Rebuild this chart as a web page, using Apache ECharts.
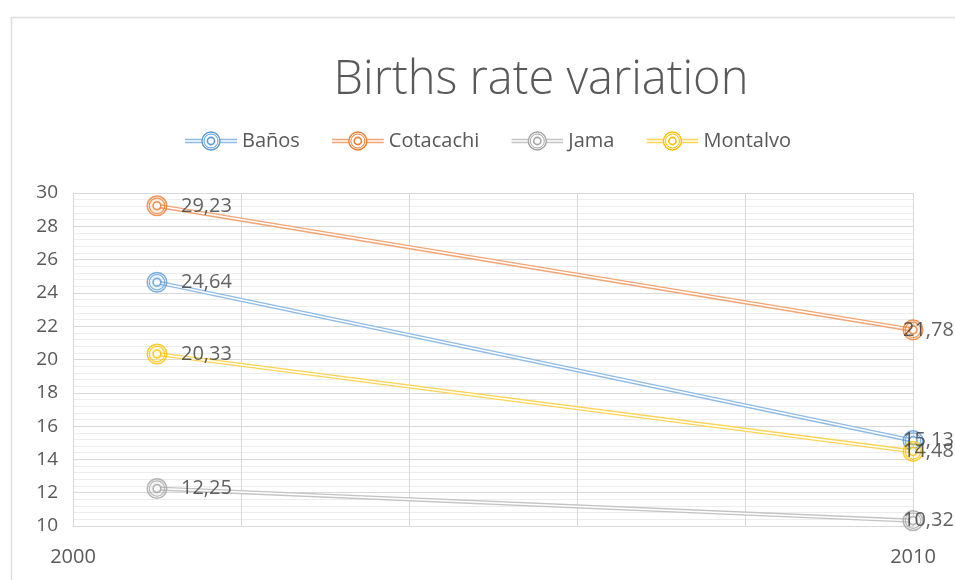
<!DOCTYPE html>
<html>
<head>
<meta charset="utf-8">
<script src="https://cdn.jsdelivr.net/npm/echarts@6/dist/echarts.min.js"></script>
<style>
  html, body { margin: 0; padding: 0; background: #fff; overflow: hidden; }
  #chart { width: 955px; height: 580px; }
</style>
</head>
<body>
<div id="chart"></div>
<script>
// Birth rates (per 1000) for four cantons, 2001 and 2010
const years = [2001, 2010];
const seriesNames = ['Baños', 'Cotacachi', 'Jama', 'Montalvo'];
const banos = [24.64, 15.13];
const cotacachi = [29.23, 21.78];
const jama = [12.25, 10.32];
const montalvo = [20.33, 14.48];
const xTickLabels = ['2000', '2010'];
const yTickLabels = ['10', '12', '14', '16', '18', '20', '22', '24', '26', '28', '30'];

const seriesValues = [banos, cotacachi, jama, montalvo];
const colors = ['#5B9BD5', '#ED7D31', '#A5A5A5', '#FFC000'];
const lineColors = ['#8FBBE5', '#F2A574', '#C4C4C4', '#FFD454'];

// concentric-ring marker drawn as a tiny SVG
function markerSvg(c) {
  const svg = '<svg xmlns="http://www.w3.org/2000/svg" width="44" height="44" viewBox="0 0 22 22">' +
    '<circle cx="11" cy="11" r="9.8" fill="' + c + '" fill-opacity="0.15" stroke="' + c + '" stroke-width="1.5"/>' +
    '<circle cx="11" cy="11" r="7.7" fill="none" stroke="' + c + '" stroke-width="1.1"/>' +
    '<circle cx="11" cy="11" r="3.9" fill="#fff" stroke="' + c + '" stroke-width="1.7"/>' +
    '</svg>';
  return 'image://data:image/svg+xml;charset=utf-8,' + encodeURIComponent(svg);
}
// legend key: compound line with the ring marker in the middle
function legendSvg(c, lc) {
  const svg = '<svg xmlns="http://www.w3.org/2000/svg" width="104" height="44" viewBox="0 0 52 22">' +
    '<line x1="0" y1="9.5" x2="52" y2="9.5" stroke="' + lc + '" stroke-width="1.3"/>' +
    '<line x1="0" y1="12.5" x2="52" y2="12.5" stroke="' + lc + '" stroke-width="1.3"/>' +
    '<circle cx="26" cy="11" r="9" fill="#fff" stroke="' + c + '" stroke-width="1.4"/>' +
    '<circle cx="26" cy="11" r="7" fill="none" stroke="' + c + '" stroke-width="1"/>' +
    '<circle cx="26" cy="11" r="3.6" fill="#fff" stroke="' + c + '" stroke-width="1.6"/>' +
    '</svg>';
  return 'image://data:image/svg+xml;charset=utf-8,' + encodeURIComponent(svg);
}

const fmt = v => String(v.toFixed(2)).replace('.', ',');
const FONT = 'Open Sans';

const series = [];
seriesNames.forEach((name, i) => {
  const pts = years.map((y, k) => [y, seriesValues[i][k]]);
  // outer coloured stroke of the compound line
  series.push({
    name: name, type: 'line', data: pts, symbol: 'none', z: 2,
    lineStyle: { color: lineColors[i], width: 4.2 },
    itemStyle: { color: colors[i] },
    silent: true, emphasis: { disabled: true }
  });
  // white core that splits the stroke into two thin lines
  series.push({
    name: name + ' core', type: 'line', data: pts, symbol: 'none', z: 3,
    lineStyle: { color: '#ffffff', width: 1.5 },
    silent: true, emphasis: { disabled: true }
  });
  // ring markers with value labels
  series.push({
    name: name, type: 'scatter', z: 4,
    data: pts.map((p, k) => ({
      value: p,
      label: k === pts.length - 1 ? { offset: [-34, 0] } : {}
    })),
    symbol: markerSvg(colors[i]),
    symbolSize: 22,
    itemStyle: { color: colors[i] },
    label: {
      show: true, position: 'right', distance: 13,
      formatter: p => fmt(p.value[1]),
      fontFamily: FONT, fontSize: 20, color: '#3A3A3A'
    },
    emphasis: { disabled: true }
  });
});

const chart = echarts.init(document.getElementById('chart'));
chart.setOption({
  backgroundColor: '#ffffff',
  animation: false,
  title: {
    text: 'Births rate variation',
    left: 536, top: 52, textAlign: 'center',
    textStyle: { fontFamily: FONT, fontWeight: 300, fontSize: 47, color: '#595959' }
  },
  legend: {
    data: seriesNames.map((n, i) => ({ name: n, icon: legendSvg(colors[i], lineColors[i]) })),
    left: 180, top: 125,
    itemWidth: 52, itemHeight: 22, itemGap: 32,
    textStyle: { fontFamily: FONT, fontSize: 20, color: '#595959' }
  },
  graphic: [{
    type: 'rect', left: 9, top: 15, z: -10, silent: true,
    shape: { width: 1100, height: 700 },
    style: { fill: 'none', stroke: '#DEDEDE', lineWidth: 1.5 }
  }],
  grid: { left: 73, right: 42, top: 193, bottom: 54, containLabel: false },
  xAxis: {
    type: 'value', min: 2000, max: 2010, interval: 2,
    axisLine: { show: true, lineStyle: { color: '#D9D9D9' } },
    axisTick: { show: false },
    splitLine: { show: true, lineStyle: { color: '#D9D9D9' } },
    axisLabel: {
      margin: 21,
      formatter: v => xTickLabels.indexOf(String(v)) >= 0 ? String(v) : '',
      fontFamily: FONT, fontSize: 20, color: '#595959'
    }
  },
  yAxis: {
    type: 'value', min: 10, max: 30, interval: 2,
    axisLine: { show: false },
    axisTick: { show: false },
    splitLine: { show: true, lineStyle: { color: '#D9D9D9' } },
    minorTick: { show: false, splitNumber: 5 },
    minorSplitLine: { show: true, lineStyle: { color: '#EDEDED' } },
    axisLabel: {
      margin: 15,
      formatter: v => yTickLabels.indexOf(String(v)) >= 0 ? String(v) : '',
      fontFamily: FONT, fontSize: 19, color: '#595959'
    }
  },
  series: series
});
</script>
</body>
</html>
